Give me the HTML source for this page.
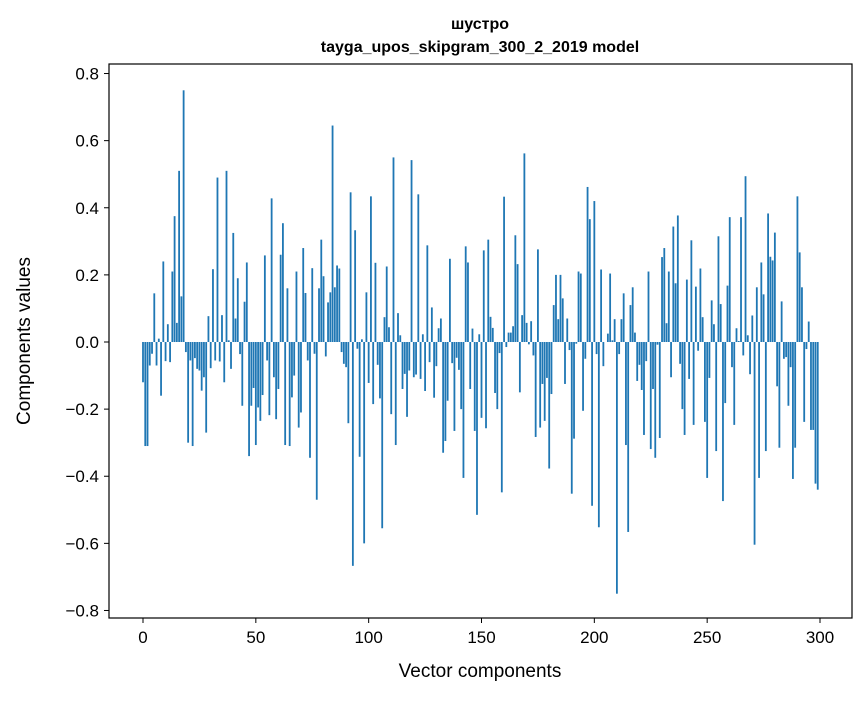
<!DOCTYPE html>
<html><head><meta charset="utf-8"><style>
body{margin:0;background:#fff;}
svg text{font-family:"Liberation Sans","DejaVu Sans",sans-serif;fill:#000;}
</style></head><body>
<svg id="chart" width="867" height="696" viewBox="0 0 867 696" xmlns="http://www.w3.org/2000/svg">
<rect width="867" height="696" fill="#fff"/>
<text x="480" y="29" text-anchor="middle" font-size="16" font-weight="bold">шустро</text>
<text x="480" y="52" text-anchor="middle" font-size="16" font-weight="bold">tayga_upos_skipgram_300_2_2019 model</text>
<g id="bars"></g>
<g id="axes"></g>
<text x="480" y="677" text-anchor="middle" font-size="19">Vector components</text>
<text transform="translate(30,341) rotate(-90)" text-anchor="middle" font-size="19">Components values</text>
</svg>
<script>
const values = [-0.12,-0.31,-0.31,-0.07,-0.035,0.145,-0.07,0.01,-0.16,0.24,-0.057,0.053,-0.06,0.21,0.375,0.057,0.51,0.136,0.75,-0.03,
-0.3,-0.055,-0.31,-0.048,-0.08,-0.085,-0.145,-0.105,-0.27,0.077,-0.078,0.217,-0.055,0.49,-0.058,0.08,-0.12,0.51,0.005,-0.08,
0.325,0.07,0.19,-0.036,-0.19,0.12,0.237,-0.34,-0.19,-0.137,-0.307,-0.195,-0.235,-0.158,0.258,-0.055,-0.218,0.428,-0.105,-0.23,
-0.14,0.26,0.354,-0.307,0.16,-0.31,-0.165,-0.1,0.21,-0.255,-0.21,0.28,0.146,-0.055,-0.345,0.22,-0.035,-0.47,0.16,0.305,
0.196,-0.043,0.118,0.148,0.645,0.163,0.228,0.219,-0.03,-0.065,-0.075,-0.242,0.446,-0.667,0.333,-0.02,-0.342,0.008,-0.6,0.148,
-0.122,0.434,-0.185,0.236,-0.068,-0.168,-0.555,0.074,0.225,0.044,-0.215,0.55,-0.307,0.086,0.02,-0.14,-0.095,-0.223,-0.085,0.542,
-0.105,-0.097,0.44,-0.11,0.023,-0.146,0.288,-0.06,0.103,-0.166,-0.072,0.041,0.07,-0.33,-0.295,-0.175,0.248,-0.063,-0.265,-0.047,
-0.083,-0.2,-0.405,0.285,0.237,-0.14,0.04,-0.265,-0.515,0.023,-0.226,0.273,-0.257,0.305,0.075,0.042,-0.152,-0.2,-0.033,-0.448,
0.433,-0.015,0.028,0.028,0.047,0.318,0.232,-0.15,0.08,0.562,0.057,-0.007,0.062,-0.04,-0.283,0.276,-0.255,-0.125,-0.235,-0.107,
-0.377,-0.155,0.11,0.2,0.068,0.2,0.13,-0.125,0.07,-0.024,-0.452,-0.288,-0.005,0.21,0.204,-0.205,-0.05,0.462,0.366,-0.488,
0.42,-0.036,-0.552,0.216,-0.072,0.0,0.025,0.204,0.005,0.068,-0.75,-0.036,0.068,0.145,-0.307,-0.566,0.11,0.163,0.028,-0.116,
-0.068,-0.143,-0.277,-0.057,0.21,-0.319,-0.14,-0.345,-0.008,-0.286,0.253,0.28,0.056,0.21,-0.105,0.344,0.175,0.377,-0.065,-0.2,
-0.277,0.186,-0.11,0.303,-0.247,0.165,-0.026,0.219,0.074,-0.238,-0.405,-0.107,0.124,0.053,-0.325,0.315,0.113,-0.474,-0.182,0.168,
0.372,-0.075,-0.247,0.041,0.003,0.372,-0.04,0.494,0.02,-0.096,0.079,-0.604,0.163,-0.405,0.237,0.142,-0.325,0.383,0.254,0.243,
0.326,-0.132,-0.315,0.121,-0.05,-0.045,-0.19,-0.075,-0.408,-0.315,0.434,0.267,0.163,-0.238,-0.021,0.061,-0.262,-0.262,-0.422,-0.44];
const xTicks = [0,50,100,150,200,250,300];
const yTicks = [-0.8,-0.6,-0.4,-0.2,0.0,0.2,0.4,0.6,0.8];
const yTickLabels = ["−0.8","−0.6","−0.4","−0.2","0.0","0.2","0.4","0.6","0.8"];

const L=109,R=852,T=64,B=618;
const xScale = v => 143 + v*(820-143)/300;
const yScale = v => 342 - v*335.6;
const NS="http://www.w3.org/2000/svg";
const bars=document.getElementById('bars');
values.forEach((v,i)=>{
  const r=document.createElementNS(NS,'rect');
  const y0=yScale(0), y1=yScale(v);
  r.setAttribute('x',xScale(i-0.4));
  r.setAttribute('width',xScale(0.8)-xScale(0));
  r.setAttribute('y',Math.min(y0,y1));
  r.setAttribute('height',Math.abs(y1-y0));
  r.setAttribute('fill','#1f77b4');
  
  
  bars.appendChild(r);
});
const axes=document.getElementById('axes');
const frame=document.createElementNS(NS,'rect');
frame.setAttribute('x',L);frame.setAttribute('y',T);frame.setAttribute('width',R-L);frame.setAttribute('height',B-T);
frame.setAttribute('fill','none');frame.setAttribute('stroke','#000');frame.setAttribute('stroke-width','1.2');


axes.appendChild(frame);
xTicks.forEach(t=>{
  const x=xScale(t);
  const ln=document.createElementNS(NS,'line');
  ln.setAttribute('x1',x);ln.setAttribute('x2',x);ln.setAttribute('y1',B);ln.setAttribute('y2',B+5);ln.setAttribute('stroke','#000');
  
  
  axes.appendChild(ln);
  const tx=document.createElementNS(NS,'text');
  tx.setAttribute('x',x);tx.setAttribute('y',B+25);tx.setAttribute('text-anchor','middle');tx.setAttribute('font-size','17');
  tx.textContent=t;
  
  
  axes.appendChild(tx);
});
yTicks.forEach((t,k)=>{
  const y=yScale(t);
  const ln=document.createElementNS(NS,'line');
  ln.setAttribute('x1',L-5);ln.setAttribute('x2',L);ln.setAttribute('y1',y);ln.setAttribute('y2',y);ln.setAttribute('stroke','#000');
  
  
  axes.appendChild(ln);
  const tx=document.createElementNS(NS,'text');
  tx.setAttribute('x',L-10);tx.setAttribute('y',y+6);tx.setAttribute('text-anchor','end');tx.setAttribute('font-size','17');
  tx.textContent=yTickLabels[k];
  
  
  axes.appendChild(tx);
});
</script>
</body></html>
